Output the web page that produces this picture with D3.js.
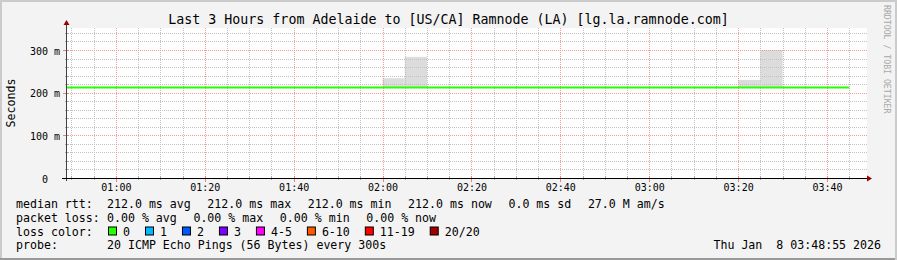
<!DOCTYPE html>
<html>
<head>
<meta charset="utf-8">
<script src="https://cdn.jsdelivr.net/npm/d3@7"></script>
<style>
  body { margin: 0; background: #f3f3f3; }
  text { font-family: "DejaVu Sans Mono", monospace; white-space: pre; }
</style>
</head>
<body>
<svg id="chart" width="897" height="260"></svg>
<script>
// ---- data ----
const title = "Last 3 Hours from Adelaide to [US/CA] Ramnode (LA) [lg.la.ramnode.com]";
const viewStart = "00:49";
const viewEnd = "03:49";

// median rtt (ms), one value per 5 min step starting 00:45
const medianStart = "00:45";
const medianStepMin = 5;
const medianRtt = [212, 212, 212, 212, 212, 212, 212, 212, 212, 212, 212, 212,
                   212, 212, 212, 212, 212, 212, 212, 212, 212, 212, 212, 212,
                   212, 212, 212, 212, 212, 212, 212, 212, 212, 212, 212, 212];

// smoke (ping spread), 5 min wide
const smokeStart = ["02:00", "02:05", "03:20", "03:25"];
const smokeLow = [211, 211, 211, 211];
const smokeHigh = [234, 284, 230, 300];

const yTicks = [0, 100, 200, 300];

const rttLabel = "median rtt:";
const rttStats = ["212.0 ms avg", "212.0 ms max", "212.0 ms min", "212.0 ms now", "0.0 ms sd", "27.0 M am/s"];
const lossLabel = "packet loss:";
const lossStats = ["0.00 % avg", "0.00 % max", "0.00 % min", "0.00 % now"];
const colorLabel = "loss color:";
const lossNames = ["0", "1", "2", "3", "4-5", "6-10", "11-19", "20/20"];
const lossColors = ["#26ff00", "#00b8ff", "#0059ff", "#7e00ff", "#ff00ff", "#ff5900", "#ff0000", "#a10000"];
const probeLabel = "probe:";
const probeText = "20 ICMP Echo Pings (56 Bytes) every 300s";
const stamp = "Thu Jan  8 03:48:55 2026";

// ---- helpers ----
const t = s => {
    const [h, m] = s.split(":").map(Number);
    return new Date(Date.UTC(2026, 0, 8, h, m));
};

const W = 897, H = 260;
const pL = 67, pR = 867, pT = 28, pB = 178;

const svg = d3.select("#chart");
const defs = svg.append("defs");

// 1px dot patterns for the dotted grid (rrdtool style)
function dotPattern(id, w, h, color) {
    const p = defs.append("pattern").attr("id", id)
        .attr("patternUnits", "userSpaceOnUse")
        .attr("width", w).attr("height", h);
    p.append("rect").attr("width", 1).attr("height", 1).attr("fill", color);
}
dotPattern("vMinor", 1, 2, "#c2c2c2");
dotPattern("hMinor", 2, 1, "#c2c2c2");
dotPattern("vMajor", 1, 2, "#f09a9a");
dotPattern("hMajor", 2, 1, "#f09a9a");

// background + shading frame
svg.append("rect").attr("width", W).attr("height", H).attr("fill", "#f3f3f3");
svg.append("rect").attr("x", 0).attr("y", 0).attr("width", W).attr("height", 2).attr("fill", "#cbcbcb");
svg.append("rect").attr("x", 0).attr("y", 0).attr("width", 2).attr("height", H).attr("fill", "#cbcbcb");
svg.append("rect").attr("x", 0).attr("y", H - 2).attr("width", W).attr("height", 2).attr("fill", "#999999");
svg.append("rect").attr("x", W - 2).attr("y", 0).attr("width", 2).attr("height", H).attr("fill", "#cbcbcb");

const x = d3.scaleUtc().domain([t(viewStart), t(viewEnd)]).range([pL, pR]);
const y = d3.scaleLinear().domain([0, 351.6]).range([pB, pT]);

svg.append("rect")
    .attr("x", pL).attr("y", pT)
    .attr("width", pR - pL).attr("height", pB - pT)
    .attr("fill", "#ffffff");

svg.append("clipPath").attr("id", "plotclip")
    .append("rect").attr("x", pL).attr("y", pT)
    .attr("width", pR - pL).attr("height", pB - pT);

const plot = svg.append("g").attr("clip-path", "url(#plotclip)");

// smoke
plot.selectAll("rect.smoke")
    .data(smokeStart.map((s, i) => ({ t0: t(s), lo: smokeLow[i], hi: smokeHigh[i] })))
    .enter().append("rect")
    .attr("class", "smoke")
    .attr("x", d => x(d.t0))
    .attr("width", d => x(d3.utcMinute.offset(d.t0, 5)) - x(d.t0))
    .attr("y", d => y(d.hi))
    .attr("height", d => y(d.lo) - y(d.hi))
    .attr("fill", "#dcdcdc");

// grid
const minorX = x.ticks(d3.utcMinute.every(5));
const majorX = x.ticks(d3.utcMinute.every(20));
const minorY = d3.range(20, 352, 20).filter(v => v % 100 !== 0);
const majorY = [100, 200, 300];
const px = v => Math.round(v) + 0.5;

const grid = plot.append("g").attr("shape-rendering", "crispEdges");
function vGrid(cls, vals, pat) {
    grid.selectAll("rect." + cls).data(vals).enter().append("rect")
        .attr("class", cls)
        .attr("x", d => Math.round(x(d))).attr("width", 1)
        .attr("y", pT).attr("height", pB - pT)
        .attr("fill", `url(#${pat})`);
}
function hGrid(cls, vals, pat) {
    grid.selectAll("rect." + cls).data(vals).enter().append("rect")
        .attr("class", cls)
        .attr("x", pL).attr("width", pR - pL)
        .attr("y", d => Math.round(y(d))).attr("height", 1)
        .attr("fill", `url(#${pat})`);
}
vGrid("gxm", minorX, "vMinor");
hGrid("gym", minorY, "hMinor");
vGrid("gxM", majorX, "vMajor");
hGrid("gyM", majorY, "hMajor");

// median line (step)
const medianPts = medianRtt.map((v, i) => [d3.utcMinute.offset(t(medianStart), i * medianStepMin), v]);
medianPts.push([d3.utcMinute.offset(t(medianStart), medianRtt.length * medianStepMin), medianRtt[medianRtt.length - 1]]);
plot.append("path")
    .datum(medianPts)
    .attr("d", d3.line().x(d => x(d[0])).y(d => y(d[1])).curve(d3.curveStepAfter))
    .attr("fill", "none")
    .attr("stroke", lossColors[0])
    .attr("stroke-width", 2);

// axis ticks
svg.selectAll("line.tx").data(minorX).enter().append("line")
    .attr("class", "tx")
    .attr("x1", d => px(x(d))).attr("x2", d => px(x(d)))
    .attr("y1", pB - 2).attr("y2", pB + 2).attr("stroke", "#aaaaaa");
svg.selectAll("line.txM").data(majorX).enter().append("line")
    .attr("class", "txM")
    .attr("x1", d => px(x(d))).attr("x2", d => px(x(d)))
    .attr("y1", pB - 2).attr("y2", pB + 4).attr("stroke", "#f08080");
svg.selectAll("line.ty").data(minorY).enter().append("line")
    .attr("class", "ty")
    .attr("x1", pL - 2).attr("x2", pL + 2)
    .attr("y1", d => px(y(d))).attr("y2", d => px(y(d))).attr("stroke", "#aaaaaa");
svg.selectAll("line.tyM").data(majorY).enter().append("line")
    .attr("class", "tyM")
    .attr("x1", pL - 4).attr("x2", pL + 2)
    .attr("y1", d => px(y(d))).attr("y2", d => px(y(d))).attr("stroke", "#f08080");

// axis lines + arrows
svg.append("line").attr("x1", pL - 0.5).attr("x2", pL - 0.5).attr("y1", pB + 3).attr("y2", pT - 4)
    .attr("stroke", "#404040");
svg.append("line").attr("x1", pL - 5).attr("x2", pR + 1).attr("y1", pB + 0.5).attr("y2", pB + 0.5)
    .attr("stroke", "#000000");
svg.append("path").attr("d", `M${pL - 3.5},${pT - 3} L${pL + 2.5},${pT - 3} L${pL - 0.5},${pT - 8} Z`)
    .attr("fill", "#9a0000");
svg.append("path").attr("d", `M${pR},${pB - 2.5} L${pR},${pB + 3.5} L${pR + 5},${pB + 0.5} Z`)
    .attr("fill", "#9a0000");

// axis labels via d3 axes
const xAxis = svg.append("g")
    .attr("transform", `translate(0,${pB})`)
    .call(d3.axisBottom(x).tickValues(majorX).tickFormat(d3.utcFormat("%H:%M")).tickSize(0));
xAxis.select(".domain").remove();
xAxis.selectAll("text")
    .attr("y", 12.5).attr("dy", null)
    .attr("font-family", "DejaVu Sans Mono").attr("font-size", 10).attr("fill", "#000");

const yAxis = svg.append("g")
    .attr("transform", `translate(${pL},0)`)
    .call(d3.axisLeft(y).tickValues(yTicks).tickFormat(d => d === 0 ? "0  " : d + " m").tickSize(0));
yAxis.select(".domain").remove();
yAxis.selectAll("text")
    .attr("x", -7).attr("dy", "0.4em")
    .attr("font-family", "DejaVu Sans Mono").attr("font-size", 10).attr("fill", "#000");

// title
svg.append("text")
    .attr("x", W / 2).attr("y", 24)
    .attr("text-anchor", "middle")
    .attr("font-size", 13.3)
    .attr("fill", "#000")
    .text(title);

// vertical axis title
svg.append("text")
    .attr("transform", `translate(15,${(pT + pB) / 2}) rotate(-90)`)
    .attr("text-anchor", "middle")
    .attr("font-size", 11.6)
    .attr("fill", "#000")
    .text("Seconds");

// rrdtool watermark
svg.append("text")
    .attr("transform", "translate(884,5) rotate(90)")
    .attr("font-size", 8.2)
    .attr("fill", "#a8a8a8")
    .text("RRDTOOL / TOBI OETIKER");

// legend
const legendFont = 11.6;
const rowY = [207.7, 221.6, 235.5, 249.4];
const valueX = 107;
const gap = 16.6;

function legendRow(yy, label, items) {
    svg.append("text").attr("x", 16).attr("y", yy).attr("font-size", legendFont).text(label);
    let cx = valueX;
    items.forEach(s => {
        const tx = svg.append("text").attr("x", cx).attr("y", yy).attr("font-size", legendFont).text(s);
        cx += tx.node().getComputedTextLength() + gap;
    });
}
legendRow(rowY[0], rttLabel, rttStats);
legendRow(rowY[1], lossLabel, lossStats);

svg.append("text").attr("x", 16).attr("y", rowY[2]).attr("font-size", legendFont).text(colorLabel);
let sx = valueX + 1;
lossNames.forEach((name, i) => {
    svg.append("rect")
        .attr("x", sx + 0.5).attr("y", rowY[2] - 8.5)
        .attr("width", 8).attr("height", 8)
        .attr("fill", lossColors[i]).attr("stroke", "#000");
    const tx = svg.append("text").attr("x", sx + 15).attr("y", rowY[2]).attr("font-size", legendFont).text(name);
    sx += 15 + tx.node().getComputedTextLength() + 15;
});

svg.append("text").attr("x", 16).attr("y", rowY[3]).attr("font-size", legendFont).text(probeLabel);
svg.append("text").attr("x", valueX).attr("y", rowY[3]).attr("font-size", legendFont).text(probeText);
svg.append("text").attr("x", 881).attr("y", rowY[3]).attr("text-anchor", "end").attr("font-size", legendFont).text(stamp);
</script>
</body>
</html>
